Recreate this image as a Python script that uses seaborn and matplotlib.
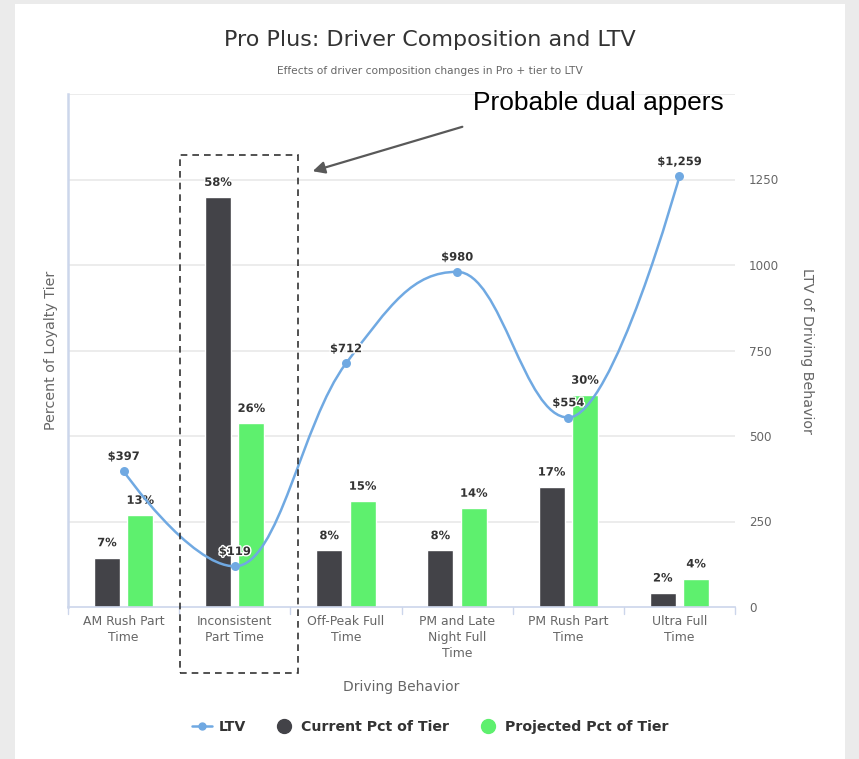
import numpy as np
import pandas as pd
import matplotlib
matplotlib.use("Agg")
import matplotlib.pyplot as plt
import matplotlib.patheffects as pe
from matplotlib.path import Path
from matplotlib.patches import PathPatch, Rectangle, FancyArrowPatch
from matplotlib.lines import Line2D
import seaborn as sns

# ---- data -------------------------------------------------------------
categories = ["AM Rush Part\nTime", "Inconsistent\nPart Time", "Off-Peak Full\nTime",
              "PM and Late\nNight Full\nTime", "PM Rush Part\nTime", "Ultra Full\nTime"]
current_pct = [7, 58, 8, 8, 17, 2]
projected_pct = [13, 26, 15, 14, 30, 4]
ltv = [397, 119, 712, 980, 554, 1259]
ltv_ticks = [0, 250, 500, 750, 1000, 1250]
series_names = ["Current Pct of Tier", "Projected Pct of Tier"]

DARK = "#434348"
GREEN = "#5ef06e"
BLUE = "#70a9e2"
TXT = "#333333"
MUTED = "#666666"
AXLINE = "#ccd6eb"
GRID = "#e9e9e9"

df = pd.DataFrame({
    "behavior": categories * 2,
    "pct": current_pct + projected_pct,
    "series": [series_names[0]] * len(categories) + [series_names[1]] * len(categories),
})

sns.set_theme(style="white")
plt.rcParams["font.family"] = ["DejaVu Sans"]

W, H = 859, 759
fig = plt.figure(figsize=(W / 100, H / 100), dpi=100, facecolor="#ebebeb")
fig.patches.append(Rectangle((15 / W, 0), (845 - 15) / W, (H - 4) / H,
                             transform=fig.transFigure, facecolor="white",
                             edgecolor="none", zorder=-5))

# plot area in pixels: x 68..735, y 94..607
rect = [68 / W, 1 - 607 / H, (735 - 68) / W, (607 - 94) / H]

# secondary (LTV) scale carries the ticks and grid, drawn underneath
ax2 = fig.add_axes(rect, zorder=1)
ax2.set_xlim(-0.5, len(categories) - 0.5)
ax2.set_ylim(0, 1500)
ax2.set_xticks([])
ax2.yaxis.tick_right()
ax2.yaxis.set_label_position("right")
ax2.set_yticks(ltv_ticks)
ax2.set_yticklabels([str(t) for t in ltv_ticks])
ax2.tick_params(axis="y", colors=MUTED, labelsize=8.6, length=0, pad=10)
for s in ["top", "right", "left", "bottom"]:
    ax2.spines[s].set_visible(False)
ax2.set_ylabel("LTV of Driving Behavior", color=MUTED, fontsize=10.3, rotation=270,
               va="bottom")
ax2.yaxis.set_label_coords(1.098, 0.5)
for t in ltv_ticks[1:] + [1500]:
    ax2.axhline(t, color=GRID, lw=1.2, zorder=0)

# bars on the percentage scale
ax = fig.add_axes(rect, zorder=2)
ax.patch.set_visible(False)
sns.barplot(data=df, x="behavior", y="pct", hue="series", order=categories,
            hue_order=series_names, palette=[DARK, GREEN], width=0.6, gap=0.22,
            saturation=1, legend=False, ax=ax, zorder=2)
ax.set_xlim(-0.5, len(categories) - 0.5)
ax.set_ylim(0, 72.6)
ax.set_yticks([])
ax.set_xlabel("Driving Behavior", color=MUTED, fontsize=10, labelpad=14)
ax.set_ylabel("Percent of Loyalty Tier", color=MUTED, fontsize=10.3)
ax.yaxis.set_label_coords(-0.015, 0.5)
ax.tick_params(axis="x", colors=MUTED, labelsize=8.9, length=0, pad=6)
for lab in ax.get_xticklabels():
    lab.set_linespacing(1.3)
    lab.set_color(MUTED)

for s in ["top", "right"]:
    ax.spines[s].set_visible(False)
ax.spines["left"].set_color(AXLINE)
ax.spines["left"].set_linewidth(1.8)
ax.spines["bottom"].set_color(AXLINE)
ax.spines["bottom"].set_linewidth(1.2)

# category boundary tick marks
for b in np.arange(-0.5, len(categories), 1.0):
    ax.plot([b, b], [0, -0.014], transform=ax.get_xaxis_transform(),
            color=AXLINE, lw=1, clip_on=False)

# bar value labels
outline = [pe.withStroke(linewidth=2, foreground="white")]
for cont, vals in zip(ax.containers, [current_pct, projected_pct]):
    for patch, v in zip(cont, vals):
        ax.annotate(f"{v}%", (patch.get_x() + patch.get_width() / 2, patch.get_height()),
                    xytext=(0, 6), textcoords="offset points", ha="center", va="bottom",
                    fontsize=8.3, fontweight="bold", color=TXT, zorder=5,
                    path_effects=outline)

# ---- LTV line on top -------------------------------------------------
ax_line = fig.add_axes(rect, zorder=3)
ax_line.set_xlim(-0.5, len(categories) - 0.5)
ax_line.set_ylim(0, 1500)
ax_line.axis("off")

# smooth spline through the LTV points (cubic Bezier, smoothing 1.5)
xs = np.arange(len(ltv), dtype=float)
ys = np.array(ltv, dtype=float)
sm = 1.5
den = sm + 1
left_c, right_c = {}, {}
for i in range(1, len(xs) - 1):
    lx = (sm * xs[i] + xs[i - 1]) / den
    ly = (sm * ys[i] + ys[i - 1]) / den
    rx = (sm * xs[i] + xs[i + 1]) / den
    ry = (sm * ys[i] + ys[i + 1]) / den
    corr = (ry - ly) * (rx - xs[i]) / (rx - lx) + ys[i] - ry
    ly += corr
    ry += corr
    if ly > ys[i - 1] and ly > ys[i]:
        ly = max(ys[i - 1], ys[i]); ry = 2 * ys[i] - ly
    elif ly < ys[i - 1] and ly < ys[i]:
        ly = min(ys[i - 1], ys[i]); ry = 2 * ys[i] - ly
    if ry > ys[i + 1] and ry > ys[i]:
        ry = max(ys[i + 1], ys[i]); ly = 2 * ys[i] - ry
    elif ry < ys[i + 1] and ry < ys[i]:
        ry = min(ys[i + 1], ys[i]); ly = 2 * ys[i] - ry
    left_c[i] = (lx, ly)
    right_c[i] = (rx, ry)

verts = [(xs[0], ys[0])]
codes = [Path.MOVETO]
for i in range(1, len(xs)):
    c1 = right_c.get(i - 1, (xs[i - 1], ys[i - 1]))
    c2 = left_c.get(i, (xs[i], ys[i]))
    verts += [c1, c2, (xs[i], ys[i])]
    codes += [Path.CURVE4] * 3
ax_line.add_patch(PathPatch(Path(verts, codes), facecolor="none", edgecolor=BLUE,
                            lw=1.8, zorder=3))
sns.scatterplot(x=xs, y=ys, ax=ax_line, color=BLUE, s=42, edgecolor=BLUE,
                linewidth=0, zorder=4, legend=False)
ax_line.set_xlim(-0.5, len(categories) - 0.5)
ax_line.set_ylim(0, 1500)
ax_line.axis("off")
for x, v in zip(xs, ltv):
    ax_line.annotate(f"${v:,}", (x, v), xytext=(0, 6), textcoords="offset points",
                     ha="center", va="bottom", fontsize=8.3, fontweight="bold",
                     color=TXT, zorder=6, path_effects=outline)

# ---- titles -----------------------------------------------------------
fig.text(430 / W, 1 - 40 / H, "Pro Plus: Driver Composition and LTV", ha="center",
         va="center", fontsize=16, color=TXT)
fig.text(430 / W, 1 - 71 / H, "Effects of driver composition changes in Pro + tier to LTV",
         ha="center", va="center", fontsize=7.7, color=MUTED)

# ---- callout ----------------------------------------------------------
fig.patches.append(Rectangle((180 / W, 1 - 673 / H), (298 - 180) / W, (673 - 155) / H,
                             transform=fig.transFigure, facecolor="none",
                             edgecolor="#333333", lw=1.2, linestyle=(0, (4, 3)),
                             zorder=10))
fig.text(473 / W, 1 - 103 / H, "Probable dual appers", ha="left", va="center",
         fontsize=19, color="black", family="Liberation Sans")
fig.patches.append(FancyArrowPatch((465 / W, 1 - 126 / H), (310 / W, 1 - 172 / H),
                                   transform=fig.transFigure, arrowstyle="-|>",
                                   mutation_scale=18, color="#595959", lw=1.6,
                                   zorder=10))

# ---- legend -----------------------------------------------------------
handles = [
    Line2D([0], [0], color=BLUE, lw=1.8, marker="o", markersize=5),
    Line2D([0], [0], color="none", marker="o", markersize=10, markerfacecolor=DARK,
           markeredgecolor=DARK),
    Line2D([0], [0], color="none", marker="o", markersize=10, markerfacecolor=GREEN,
           markeredgecolor=GREEN),
]
leg = fig.legend(handles, ["LTV"] + series_names, loc="center",
                 bbox_to_anchor=(430 / W, 1 - 727 / H), ncol=3, frameon=False,
                 handlelength=1.4, handletextpad=0.5, columnspacing=2.0,
                 prop={"weight": "bold", "size": 10.2})
for t in leg.get_texts():
    t.set_color(TXT)

fig.savefig("out.png", dpi=100, facecolor=fig.get_facecolor())
